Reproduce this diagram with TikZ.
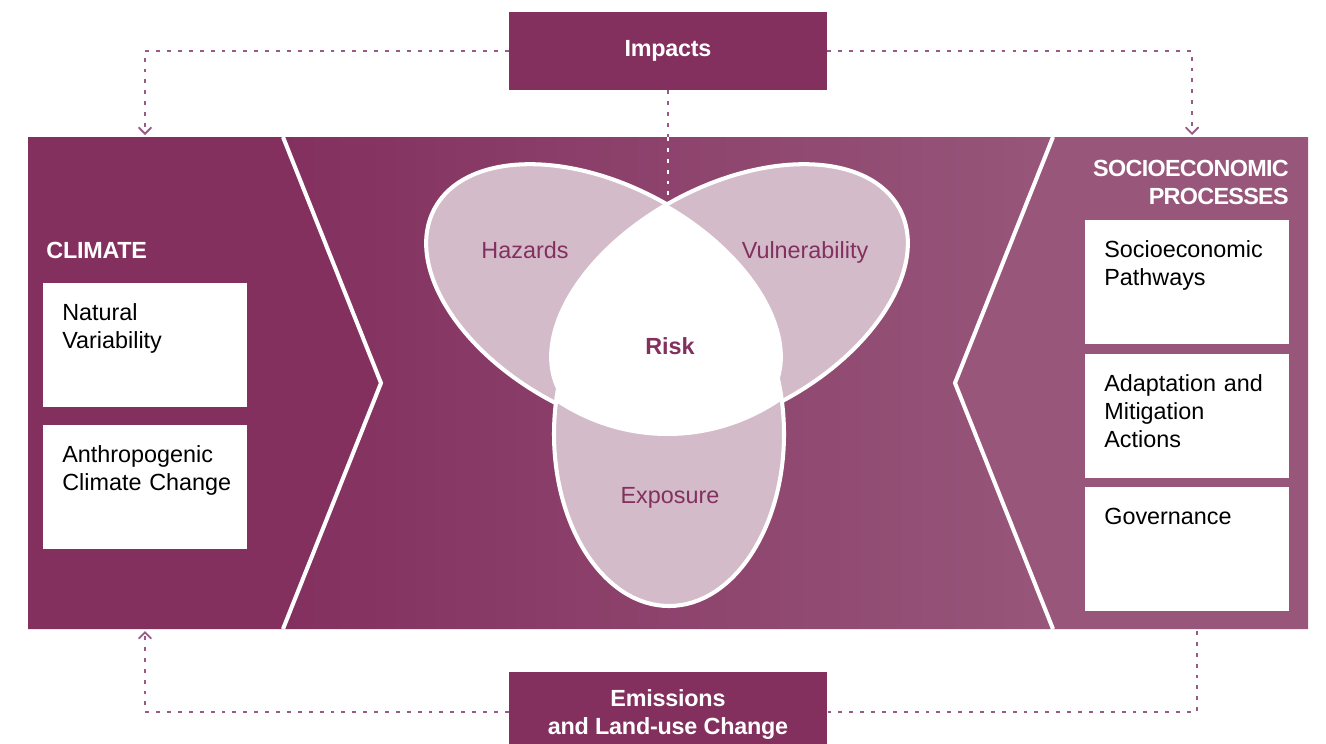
\documentclass[tikz,border=0pt]{standalone}
\usepackage{fontspec}
\setmainfont{Liberation Sans}
\usepackage{xcolor}
\usepackage{tikz}
\usetikzlibrary{arrows}
\usetikzlibrary{positioning}

\definecolor{riskdark}{RGB}{131,48,95}
\definecolor{risklight}{RGB}{151,86,122}
\definecolor{riskpale}{RGB}{211,187,202}
\definecolor{riskdot}{RGB}{155,90,133}

\tikzset{
  panelfont/.style={font=\fontsize{13.3}{16.1}\selectfont},
  headfont/.style={font=\fontsize{13.3}{16.1}\selectfont\bfseries\addfontfeature{LetterSpace=-1}},
  infobox/.style={panelfont, fill=white, text=black, anchor=north west, align=left,
    text width=3.31cm, inner xsep=0.38cm, inner ysep=0.41cm, text height=0.33cm, text depth=1.33cm},
  flowbox/.style={fill=riskdark, text=white, headfont, align=center, minimum width=6.36cm},
  flow/.style={riskdot, line width=1.1pt, dash pattern=on 2.2pt off 4pt},
  chevron/.style={white, line width=2.3pt},
  venn/.style={fill=riskpale, draw=white, line width=2.3pt},
  vennlabel/.style={panelfont, text=riskdark, anchor=base, inner sep=0pt},
}

\begin{document}
\begin{tikzpicture}[x=0.02cm, y=-0.02cm]
\useasboundingbox (0,0) rectangle (1326,744);

\fill[riskdark] (28,137) -- (283,137) -- (381,383) -- (283,629) -- (28,629) -- cycle;
\shade[left color=riskdark, right color=risklight] (283,137) -- (1053,137) -- (955,383) -- (1053,629) -- (283,629) -- (381,383) -- cycle;
\fill[risklight] (1053,137) -- (1308,137) -- (1308,629) -- (1053,629) -- (955,383) -- cycle;
\draw[chevron] (283,137) -- (381,383) -- (283,629);
\draw[chevron] (1053,137) -- (955,383) -- (1053,629);

\draw[venn, rotate around={-28.3:(604.5,300)}] (604.5,300) ellipse [x radius=193, y radius=114];
\draw[venn, rotate around={28.3:(729.5,300)}] (729.5,300) ellipse [x radius=193, y radius=114];
\draw[venn] (669,434) ellipse [x radius=115, y radius=172];
\begin{scope}
  \clip[rotate around={-28.3:(604.5,300)}] (604.5,300) ellipse [x radius=193, y radius=114];
  \clip[rotate around={28.3:(729.5,300)}] (729.5,300) ellipse [x radius=193, y radius=114];
  \fill[white] (400,150) rectangle (940,460);
\end{scope}
\begin{scope}
  \clip (669,434) ellipse [x radius=115, y radius=172];
  \clip (667.5,200) ellipse [x radius=216, y radius=236];
  \fill[white] (400,150) rectangle (940,460);
\end{scope}

\node[vennlabel] (haz) at (525,258) {Hazards};
\node[vennlabel] (vul) at (805,258) {Vulnerability};
\node[vennlabel, font=\fontsize{13.3}{16.1}\selectfont\bfseries] (risk) at (670,354) {Risk};
\node[vennlabel] (expo) at (670,503) {Exposure};

\node[headfont, text=white, anchor=base west, inner sep=0pt] (climhead) at (46,258) {CLIMATE};
\node[infobox] (natvar) at (43,283) {Natural\\Variability};
\node[infobox] (anthro) at (43,425) {Anthropogenic\\Climate~Change};

\node[font=\fontsize{13.3}{16.1}\selectfont\bfseries\addfontfeature{LetterSpace=-3}, text=white, anchor=north east, align=right, inner sep=0pt] (socihead) at (1289,160) {SOCIOECONOMIC\\PROCESSES};
\node[infobox] (pathways) at (1085,220) {Socioeconomic\\Pathways};
\node[infobox] (actions) at (1085,354) {Adaptation and\\Mitigation\\Actions};
\node[infobox] (govern) at (1085,487) {Governance};

\node[flowbox, minimum height=1.56cm] (impacts) at (668,51) {Impacts};
\node[flowbox, minimum height=1.6cm, text depth=0pt] (emissions) at (668,712) {Emissions\\and Land-use Change};

\coordinate (climtop) at (145,135);
\coordinate (socitop) at (1192,135);
\coordinate (climbot) at (145,631);
\coordinate (socibot) at (1197,631);
\coordinate (bandtop) at (668,137);
\coordinate (risktop) at (668,208);

\draw[flow, -angle 90] (impacts.west) -| (climtop);
\draw[flow, -angle 90] (impacts.east) -| (socitop);
\draw[flow] (impacts.south) -- (bandtop);
\draw[flow, white] (bandtop) -- (risktop);
\draw[flow, -angle 90] (emissions.west) -| (climbot);
\draw[flow] (socibot) |- (emissions.east);
\end{tikzpicture}
\end{document}
